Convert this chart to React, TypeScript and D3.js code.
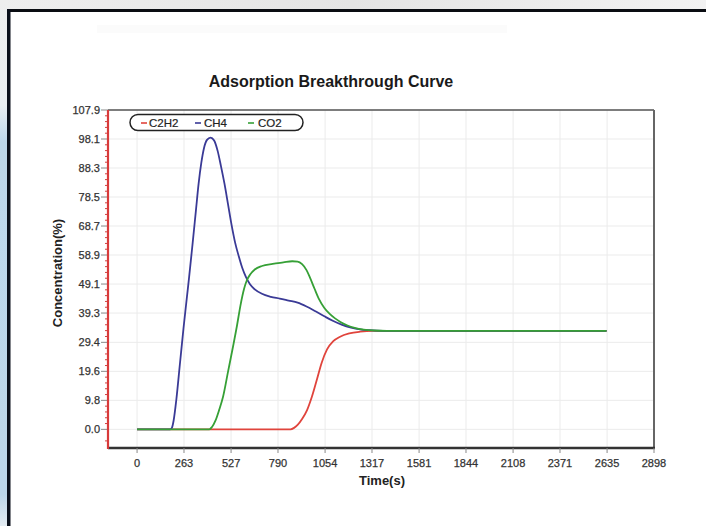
import React from "react";
import * as d3 from "d3";

const title = "Adsorption Breakthrough Curve";
const xTitle = "Time(s)";
const yTitle = "Concentration(%)";

const xTicks = [0, 263, 527, 790, 1054, 1317, 1581, 1844, 2108, 2371, 2635, 2898];
const yTicks = [0.0, 9.8, 19.6, 29.4, 39.3, 49.1, 58.9, 68.7, 78.5, 88.3, 98.1, 107.9];

const seriesNames = ["C2H2", "CH4", "CO2"];
const seriesColors = ["#e0443c", "#3a3a96", "#36a036"];

// [time, concentration]
const c2h2: [number, number][] = [
  [0, 0], [860, 0], [880, 0.5], [900, 1.5], [925, 3.5], [953, 6.5], [980, 11], [1009, 17],
  [1035, 22.5], [1065, 27], [1100, 29.8], [1138, 31.3], [1190, 32.4], [1250, 33], [1320, 33.3],
  [2632, 33.3],
];
const ch4: [number, number][] = [
  [0, 0], [185, 0], [195, 0.5], [205, 3], [220, 10], [240, 22], [260, 34], [280, 45], [291, 51],
  [310, 62], [330, 74], [345, 83], [360, 90], [375, 95], [392, 97.8], [412, 98.6], [432, 97.6],
  [452, 94], [470, 89], [490, 83], [510, 76], [530, 69], [550, 63], [570, 58.5], [590, 54.5],
  [610, 51.5], [633, 49], [660, 47.3], [700, 45.8], [750, 44.8], [800, 44.2], [850, 43.5],
  [900, 42.8], [950, 41.5], [1000, 39.9], [1050, 38.2], [1100, 36.6], [1150, 35.3], [1200, 34.4],
  [1250, 33.8], [1300, 33.5], [1380, 33.3], [2632, 33.3],
];
const co2: [number, number][] = [
  [0, 0], [405, 0], [420, 0.8], [440, 3], [460, 6.5], [482, 11], [510, 19.5], [538, 28],
  [560, 35], [580, 42], [600, 47.5], [615, 50.3], [635, 52.4], [660, 54], [700, 55.2], [760, 55.9],
  [820, 56.4], [870, 56.8], [900, 56.7], [925, 55.8], [950, 53.8], [970, 51.2], [995, 47.5],
  [1020, 44], [1050, 41], [1080, 39], [1110, 37.5], [1140, 36.3], [1180, 35.1], [1220, 34.3],
  [1270, 33.7], [1330, 33.4], [1400, 33.3], [2632, 33.3],
];
const seriesData = [c2h2, ch4, co2];

const W = 706;
const H = 526;
const L = 108, R = 654, T = 110, B = 448;

export default function App() {
  const x = d3.scaleLinear().domain([-163, 2898]).range([L, R]);
  const y = d3.scaleLinear().domain([-6.3, 107.9]).range([B, T]);
  const line = d3
    .line<[number, number]>()
    .x((d) => x(d[0]))
    .y((d) => y(d[1]))
    .curve(d3.curveMonotoneX);

  const minorY: number[] = [];
  for (let i = 0; i < yTicks.length - 1; i++) {
    const a = yTicks[i], b = yTicks[i + 1];
    for (let k = 1; k < 5; k++) minorY.push(a + ((b - a) * k) / 5);
  }
  minorY.push(-3.9);

  const font = "'Liberation Sans', Arial, sans-serif";
  const legendItems = [
    { x: 141, tx: 149 },
    { x: 195, tx: 204 },
    { x: 248, tx: 258 },
  ];

  return (
    <svg
      width={W}
      height={H}
      style={{ position: "absolute", left: 0, top: 0, display: "block" }}
      fontFamily={font}
    >
      <defs>
        <linearGradient id="lstrip" x1="0" y1="0" x2="0" y2="1">
          <stop offset="0" stopColor="#eeeeee" />
          <stop offset="0.2" stopColor="#e8edf1" />
          <stop offset="0.27" stopColor="#bdd7eb" />
          <stop offset="0.94" stopColor="#bcd6ea" />
          <stop offset="1" stopColor="#e4ecf2" />
        </linearGradient>
        <linearGradient id="tstrip" x1="0" y1="0" x2="1" y2="0">
          <stop offset="0" stopColor="#eeeeee" />
          <stop offset="0.5" stopColor="#e4e4e4" />
          <stop offset="1" stopColor="#f2f2f2" />
        </linearGradient>
      </defs>
      <rect x={0} y={0} width={W} height={H} fill="#ffffff" />
      <rect x={0} y={0} width={W} height={9} fill="url(#tstrip)" />
      <rect x={0} y={0} width={7} height={H} fill="url(#lstrip)" />
      <rect x={97} y={25} width={410} height={8} fill="#fbfbfb" />
      <rect x={7} y={9} width={W - 7} height={3} fill="#0a0d12" />
      <rect x={7} y={9} width={3.5} height={H - 9} fill="#0a0f1a" />

      {/* grid */}
      {xTicks.map((t) => (
        <line key={"gx" + t} x1={x(t)} x2={x(t)} y1={T} y2={B} stroke="#ebebeb" strokeWidth={1} />
      ))}
      {yTicks.map((t) => (
        <line key={"gy" + t} x1={L} x2={R} y1={y(t)} y2={y(t)} stroke="#ebebeb" strokeWidth={1} />
      ))}

      {/* frame */}
      <line x1={L} x2={R} y1={T} y2={T} stroke="#555" strokeWidth={1.6} />
      <line x1={R} x2={R} y1={T} y2={B} stroke="#666" strokeWidth={2} />

      {/* series */}
      {seriesData.map((d, i) => (
        <path key={seriesNames[i]} d={line(d) || ""} fill="none" stroke={seriesColors[i]} strokeWidth={1.8} />
      ))}

      {/* x axis */}
      <line x1={L} x2={R + 1} y1={B} y2={B} stroke="#333" strokeWidth={2.4} />
      {xTicks.map((t) => (
        <g key={"xt" + t}>
          <line x1={x(t)} x2={x(t)} y1={B} y2={B + 5} stroke="#888" strokeWidth={1} />
          <text x={x(t)} y={467} fontSize={11} fill="#333" stroke="#333" strokeWidth={0.25} textAnchor="middle">
            {t}
          </text>
        </g>
      ))}
      <text x={382} y={485} fontSize={13} fontWeight="bold" fill="#222" textAnchor="middle">
        {xTitle}
      </text>

      {/* y axis */}
      {minorY.map((t, i) => (
        <line key={"my" + i} x1={L - 3} x2={L} y1={y(t)} y2={y(t)} stroke="#d04040" strokeWidth={1} />
      ))}
      {yTicks.map((t) => (
        <g key={"yt" + t}>
          <line x1={L - 7} x2={L} y1={y(t)} y2={y(t)} stroke="#888" strokeWidth={1} />
          <text x={100} y={y(t) + 4} fontSize={11} fill="#333" stroke="#333" strokeWidth={0.25} textAnchor="end">
            {t.toFixed(1)}
          </text>
        </g>
      ))}
      <line x1={L} x2={L} y1={T} y2={B + 1} stroke="#d83a3a" strokeWidth={2.2} />
      <text
        transform={`translate(62, 273) rotate(-90)`}
        fontSize={13}
        fontWeight="bold"
        fill="#222"
        textAnchor="middle"
      >
        {yTitle}
      </text>

      {/* title */}
      <text x={331} y={87} fontSize={16} fontWeight="bold" fill="#1a1a1a" textAnchor="middle">
        {title}
      </text>

      {/* legend */}
      <rect x={130} y={114.5} width={173} height={16} rx={8} ry={8} fill="#fff" stroke="#222" strokeWidth={1.5} />
      {seriesNames.map((n, i) => (
        <g key={"lg" + n}>
          <line
            x1={legendItems[i].x}
            x2={legendItems[i].x + 6}
            y1={123}
            y2={123}
            stroke={seriesColors[i]}
            strokeWidth={1.6}
          />
          <text x={legendItems[i].tx} y={127} fontSize={11.5} fill="#222" stroke="#222" strokeWidth={0.2}>
            {n}
          </text>
        </g>
      ))}
    </svg>
  );
}
